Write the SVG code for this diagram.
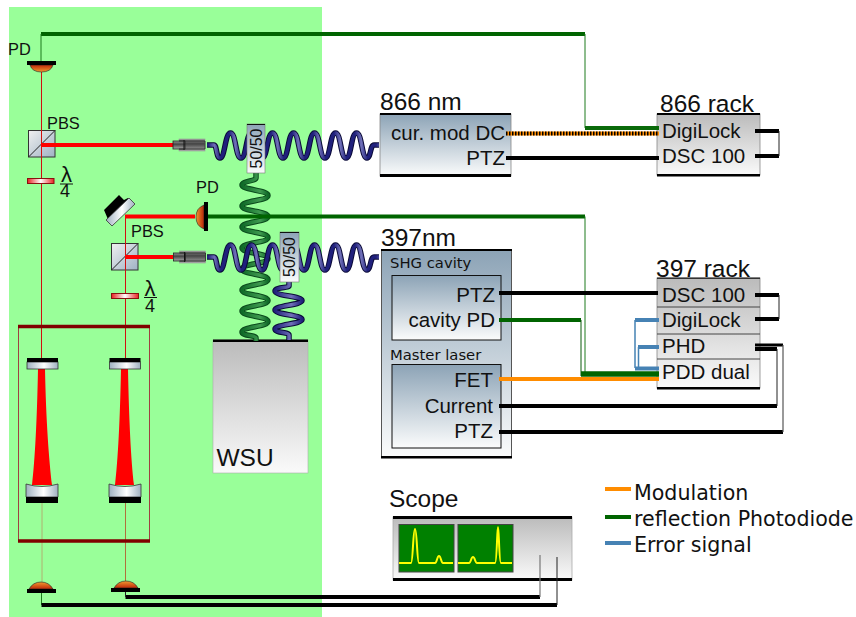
<svg xmlns="http://www.w3.org/2000/svg" width="856" height="617" viewBox="0 0 856 617">
<style>
text{font-family:"Liberation Sans",Arial,sans-serif;fill:#111}
.t18{font-size:20.500px}.t21{font-size:24.500px}.t16{font-size:16.400px}
.t15{font-family:"DejaVu Sans",sans-serif;font-size:14.800px}
.t20{font-family:"DejaVu Sans",sans-serif;font-size:20.600px}
.r{text-anchor:end}
.w{fill:none;stroke:#000;stroke-width:4}
.g{fill:none;stroke:#006400;stroke-width:4}
.o{fill:none;stroke:#ff8c00;stroke-width:4}
.b{fill:none;stroke:#4682b4;stroke-width:4}
.thin{fill:none;stroke:#222;stroke-width:1}
.beam{fill:none;stroke:#f00;stroke-width:4}
.ray{fill:none;stroke:#d01010;stroke-width:1}
.bar{fill:#000}
</style>
<defs>
<linearGradient id="panel" x1="0" y1="0" x2="0" y2="1"><stop offset="0" stop-color="#8ca3b6"/><stop offset="1" stop-color="#fbfcfc"/></linearGradient>
<linearGradient id="rack" x1="0" y1="0" x2="0" y2="1"><stop offset="0" stop-color="#bbbbbb"/><stop offset="1" stop-color="#fafafa"/></linearGradient>
<linearGradient id="cube" x1="0" y1="0" x2="1" y2="1"><stop offset="0" stop-color="#f0f0f0"/><stop offset="1" stop-color="#9fb2c4"/></linearGradient>
<linearGradient id="mir" x1="0" y1="0" x2="1" y2="0"><stop offset="0" stop-color="#9fb0c0"/><stop offset=".55" stop-color="#ffffff"/><stop offset="1" stop-color="#9fb0c0"/></linearGradient>
<linearGradient id="plate" x1="0" y1="0" x2="1" y2="0"><stop offset="0" stop-color="#e82020"/><stop offset=".5" stop-color="#ffffff"/><stop offset="1" stop-color="#e82020"/></linearGradient>
<linearGradient id="pdd" x1="0" y1="0" x2="0" y2="1"><stop offset="0" stop-color="#c02808"/><stop offset="1" stop-color="#f09a30"/></linearGradient>
<linearGradient id="pdu" x1="0" y1="0" x2="0" y2="1"><stop offset="0" stop-color="#f09a30"/><stop offset="1" stop-color="#c02808"/></linearGradient>
<linearGradient id="pds" x1="0" y1="0" x2="1" y2="0"><stop offset="0" stop-color="#f09a30"/><stop offset="1" stop-color="#b82408"/></linearGradient>
<linearGradient id="coll" x1="0" y1="0" x2="0" y2="1"><stop offset="0" stop-color="#999"/><stop offset=".4" stop-color="#444"/><stop offset="1" stop-color="#aaa"/></linearGradient>
<linearGradient id="blueH" gradientUnits="userSpaceOnUse" x1="229" y1="0" x2="250" y2="0" spreadMethod="repeat"><stop offset="0" stop-color="#20207c"/><stop offset=".3" stop-color="#7070b8"/><stop offset=".6" stop-color="#20207c"/><stop offset="1" stop-color="#20207c"/></linearGradient>
<linearGradient id="blueV" gradientUnits="userSpaceOnUse" x1="275" y1="0" x2="302" y2="0"><stop offset="0" stop-color="#20207c"/><stop offset=".6" stop-color="#7070b8"/><stop offset="1" stop-color="#20207c"/></linearGradient>
<linearGradient id="greenV" gradientUnits="userSpaceOnUse" x1="242" y1="0" x2="268" y2="0"><stop offset="0" stop-color="#0f6a28"/><stop offset=".7" stop-color="#3f9a50"/><stop offset="1" stop-color="#0f6a28"/></linearGradient>
<path id="coilH" d="M207 145H214C217 145 216 158 220 158c5 0 5-25 10.500-25s5 25 10.500 25s5-25 10.500-25s5 25 10.500 25s5-25 10.500-25s5 25 10.500 25s5-25 10.500-25s5 25 10.500 25s5-25 10.500-25s5 25 10.500 25s5-25 10.500-25s5 25 10.500 25s5-25 10.500-25s5 25 10.500 25C371 158 370 145 374 145H379"/>
<g id="collimator">
<rect x="179" y="139" width="26" height="12" fill="url(#coll)" stroke="#999" stroke-width=".6"/>
<rect x="173" y="141" width="12" height="8" fill="url(#coll)" stroke="#222" stroke-width=".8"/>
<path d="M184 140V150" stroke="#111" stroke-width="1"/>
<path d="M179 141H205V149H179" fill="none" stroke="#222" stroke-width=".8"/>
</g>
<g id="topmirror">
<rect x="0" y="4" width="31" height="7" fill="url(#mir)" stroke="#333" stroke-width=".8"/>
<rect x="0" y="0" width="31" height="4" class="bar"/>
</g>
<g id="endmirror">
<path d="M0 0Q16 5 32 0V13H0Z" fill="url(#mir)" stroke="#333" stroke-width=".8"/>
<rect x="0" y="13" width="32" height="6" class="bar"/>
</g>
</defs>

<rect id="table" x="9" y="7" width="313" height="610" fill="#99ff99"/>

<g id="pbs-1">
<rect x="28.500" y="130.500" width="26.500" height="26.500" fill="url(#cube)" stroke="#333"/>
<path d="M28.500 157L55 130.500" stroke="#222" stroke-width="1"/>
<text x="47" y="129" class="t16">PBS</text>
</g>
<g id="pbs-2">
<rect x="111.500" y="243.500" width="26.500" height="26.500" fill="url(#cube)" stroke="#333"/>
<path d="M111.500 270L138 243.500" stroke="#222" stroke-width="1"/>
<text x="131" y="237" class="t16">PBS</text>
</g>
<g id="wsu">
<rect x="213" y="340" width="95" height="133" fill="url(#rack)" stroke="#aaa" stroke-width=".6"/>
<rect x="213" y="339.500" width="95" height="2.500" class="bar"/>
<text x="216.500" y="466" font-size="24.500">WSU</text>
</g>
<g id="laser-866">
<rect x="380" y="114" width="131" height="62" fill="url(#panel)" stroke="#888" stroke-width=".8"/>
<rect x="380" y="113" width="131" height="2" class="bar"/>
<rect x="380" y="174" width="131" height="3" class="bar"/>
<text x="380" y="110" class="t21">866 nm</text>
<text x="505" y="140" class="t18 r">cur. mod DC</text>
<text x="505" y="165" class="t18 r">PTZ</text>
</g>
<g id="laser-397">
<rect x="381.500" y="249.500" width="130" height="208" fill="url(#panel)" stroke="#555" stroke-width="1"/>
<rect x="381" y="249" width="131" height="2" class="bar"/>
<rect x="381" y="456" width="131" height="2.500" class="bar"/>
<text x="381" y="246" class="t21">397nm</text>
<text x="390" y="268" class="t15">SHG cavity</text>
<rect x="392" y="275.500" width="109" height="64.500" fill="url(#panel)" stroke="#111" stroke-width="1"/>
<text x="495" y="302" class="t18 r">PTZ</text>
<text x="495" y="327" class="t18 r">cavity PD</text>
<text x="390" y="360" class="t15">Master laser</text>
<rect x="392" y="364.500" width="109" height="83.500" fill="url(#panel)" stroke="#111" stroke-width="1"/>
<text x="493" y="387" class="t18 r">FET</text>
<text x="493" y="413" class="t18 r">Current</text>
<text x="493" y="438" class="t18 r">PTZ</text>
</g>
<g id="rack-866">
<rect x="657" y="114" width="103" height="61" fill="url(#rack)" stroke="#888" stroke-width=".8"/>
<rect x="657" y="113" width="103" height="2" class="bar"/>
<rect x="657" y="174" width="103" height="2.500" class="bar"/>
<text x="660" y="112" class="t21">866 rack</text>
<text x="662" y="138" class="t18">DigiLock</text>
<text x="662" y="163" class="t18">DSC 100</text>
</g>
<g id="rack-397">
<rect x="657" y="278" width="103" height="110" fill="url(#rack)" stroke="#888" stroke-width=".8"/>
<rect x="657" y="277.500" width="103" height="1.500" fill="#333"/>
<path d="M657 307H760M657 334H760M657 359H760" stroke="#444" stroke-width="1"/>
<rect x="657" y="387" width="103" height="2.500" class="bar"/>
<text x="656" y="277" class="t21">397 rack</text>
<text x="662" y="302" class="t18">DSC 100</text>
<text x="662" y="327" class="t18">DigiLock</text>
<text x="662" y="353" class="t18">PHD</text>
<text x="662" y="379" class="t18">PDD dual</text>
</g>
<g id="scope">
<text x="389" y="507" font-size="24.500">Scope</text>
<rect x="393" y="517" width="179" height="63" fill="url(#rack)" stroke="#aaa" stroke-width=".8"/>
<rect x="393" y="516" width="179" height="3" class="bar"/>
<rect x="393" y="578" width="179" height="3" class="bar"/>
<rect x="399" y="524.500" width="55" height="47.500" fill="#008000" stroke="#444" stroke-width="1"/>
<rect x="458" y="524.500" width="55" height="47.500" fill="#008000" stroke="#444" stroke-width="1"/>
<path d="M399 563H411C413 563 413 529 415 529C417 529 417 563 419 563H435C437 563 437 556 439 556C441 556 441 563 443 563H453" fill="none" stroke="#ff0" stroke-width="2"/>
<path d="M458 563H469C471 563 471 557 473 557C475 557 475 563 477 563H495C497 563 497 527 498 527C499 527 499 563 501 563H512" fill="none" stroke="#ff0" stroke-width="2"/>
</g>

<g id="connectors">
<path class="g" d="M41 34H585"/>
<path d="M41 34V61" fill="none" stroke="#1d7a1d" stroke-width="1"/>
<path d="M585 34V128" fill="none" stroke="#1d7a1d" stroke-width="1"/>
<path d="M585 128H659" fill="none" stroke="#0a6a0a" stroke-width="4"/>
<path class="o" d="M506 133.500H659"/>
<path d="M506 133.500H659" fill="none" stroke="#000" stroke-width="4" stroke-dasharray="1.500 1.500"/>
<path class="w" d="M506 158H659"/>
<path class="w" d="M755 131H779M755 156H779"/>
<path class="thin" d="M779 131V156"/>

<path class="ray" d="M41.500 65V359"/>
<path class="ray" d="M125.500 216V359"/>
<path d="M42 503V582" fill="none" stroke="#b0b070" stroke-width="1"/>
<path d="M125.500 503V581" fill="none" stroke="#b0703c" stroke-width="1"/>
<path class="beam" d="M41 145H173"/>
<path class="beam" d="M125 216.500H195"/>
<path class="beam" d="M125 257H173"/>
<path d="M38 369H45C46 420 49 460 52 485H32C35 460 37 420 38 369Z" fill="#f00"/>
<path d="M121 369H128C129 420 131 460 134 485H115C118 460 120 420 121 369Z" fill="#f00"/>

<path fill="none" stroke="#0a4a1c" stroke-width="5.500" d="M256 173V178C256 181 242 181 242 185c0 5 26 5 26 10.500s-26 5-26 10.500s26 5 26 10.500s-26 5-26 10.500s26 5 26 10.500s-26 5-26 10.500s26 5 26 10.500s-26 5-26 10.500s26 5 26 10.500s-26 5-26 10.500s26 5 26 10.500s-26 5-26 10.500s26 5 26 10.500s-26 5-26 10.500C242 336 256 335 256 338V341"/>
<path fill="none" stroke="url(#greenV)" stroke-width="3.500" d="M256 173V178C256 181 242 181 242 185c0 5 26 5 26 10.500s-26 5-26 10.500s26 5 26 10.500s-26 5-26 10.500s26 5 26 10.500s-26 5-26 10.500s26 5 26 10.500s-26 5-26 10.500s26 5 26 10.500s-26 5-26 10.500s26 5 26 10.500s-26 5-26 10.500s26 5 26 10.500s-26 5-26 10.500C242 336 256 335 256 338V341"/>
<path fill="none" stroke="#0a0a38" stroke-width="5.500" d="M289 281V286C289 288 275 287 275 291c0 5 27 5 27 9.500s-27 5-27 9.500s27 5 27 9.500s-27 5-27 9.500C275 333 289 332 289 335V340"/>
<path fill="none" stroke="url(#blueV)" stroke-width="3.500" d="M289 281V286C289 288 275 287 275 291c0 5 27 5 27 9.500s-27 5-27 9.500s27 5 27 9.500s-27 5-27 9.500C275 333 289 332 289 335V340"/>

<use href="#coilH" fill="none" stroke="#0a0a38" stroke-width="5.500"/>
<use href="#coilH" fill="none" stroke="url(#blueH)" stroke-width="3.500"/>
<use href="#coilH" y="112" fill="none" stroke="#0a0a38" stroke-width="5.500"/>
<use href="#coilH" y="112" fill="none" stroke="url(#blueH)" stroke-width="3.500"/>

<path class="g" d="M208 216.500H585"/>
<path d="M585 216.500V373" fill="none" stroke="#1d7a1d" stroke-width="1"/>
<path class="w" d="M499 293H658"/>
<path class="g" d="M499 320H581"/>
<path d="M581 320V376" fill="none" stroke="#0a5a0a" stroke-width="1"/>
<path class="o" d="M499 379H659"/>
<path d="M581 374H659" fill="none" stroke="#006400" stroke-width="5.500"/>
<path class="b" d="M659 320H635"/>
<path d="M635 320V368M638.500 347V367" fill="none" stroke="#4682b4" stroke-width="1.500"/>
<path class="b" d="M659 347H638"/>
<path class="b" d="M635 368.500H659"/>
<path class="w" d="M499 406H777"/>
<path class="w" d="M499 432H783"/>
<path class="w" d="M755 295H779M755 319H779"/>
<path class="thin" d="M779 295V319"/>
<path d="M755 345H783" fill="none" stroke="#000" stroke-width="3"/>
<path d="M755 349H777" fill="none" stroke="#000" stroke-width="4"/>
<path d="M777 349V406" fill="none" stroke="#222" stroke-width="1"/>
<path d="M783 345V432" fill="none" stroke="#555" stroke-width="1.200"/>

<path d="M41.500 593V605" fill="none" stroke="#1d7a1d" stroke-width="1"/>
<path class="w" d="M41.500 605H557"/>
<path class="thin" d="M557 605V557"/>
<path class="w" d="M125.500 597H540"/>
<path d="M125.500 592V597" class="thin"/>
<path d="M540 597V555" fill="none" stroke="#777" stroke-width="1.200"/>
</g>

<g id="pd-top">
<path d="M30 65H53Q51 72 41.500 72Q32 72 30 65Z" fill="url(#pdd)" stroke="#222" stroke-width=".6"/>
<rect x="27" y="61" width="29" height="4" class="bar"/>
<text x="8" y="55" class="t16">PD</text>
</g>
<g id="waveplate-1">
<rect x="27.500" y="178.500" width="26.500" height="5" fill="url(#plate)" stroke="#8a1010" stroke-width="1"/>
<text x="66.500" y="182" font-size="22" text-anchor="middle" font-family="Liberation Serif">λ</text>
<path d="M60 184H73" stroke="#111" stroke-width="1"/>
<text x="65" y="197" font-size="18" text-anchor="middle">4</text>
</g>
<use id="collimator-1" href="#collimator"/>
<use id="collimator-2" href="#collimator" x="0.500" y="112"/>
<g id="mirror">
<polygon points="104,210 119,195 124,200 128,198 132,202 110,224" class="bar"/>
<polygon points="106,220 112,226 135,204 129,198" fill="url(#mir)" stroke="#333" stroke-width=".8"/>
</g>
<g id="pd-side">
<path d="M204 205V229Q196 226 196 217Q196 208 204 205Z" fill="url(#pds)" stroke="#222" stroke-width=".6"/>
<rect x="204" y="202" width="4" height="29" class="bar"/>
<text x="196" y="193" class="t16">PD</text>
</g>
<g id="waveplate-2">
<rect x="111.500" y="293.500" width="27" height="5" fill="url(#plate)" stroke="#8a1010" stroke-width="1"/>
<text x="150" y="296" font-size="22" text-anchor="middle" font-family="Liberation Serif">λ</text>
<path d="M144 297.500H157" stroke="#111" stroke-width="1"/>
<text x="150" y="312" font-size="18" text-anchor="middle">4</text>
</g>
<g id="splitter-1">
<rect x="247" y="124" width="18" height="49" fill="url(#panel)" stroke="#777" stroke-width=".6"/>
<path d="M247 124.500H265" stroke="#111" stroke-width="1"/>
<text transform="translate(261.500 148.500) rotate(-90)" font-size="16" text-anchor="middle">50/50</text>
</g>
<g id="splitter-2">
<rect x="280" y="232" width="19" height="50" fill="url(#panel)" stroke="#777" stroke-width=".6"/>
<path d="M280 232.500H299" stroke="#111" stroke-width="1"/>
<text transform="translate(295 257) rotate(-90)" font-size="16" text-anchor="middle">50/50</text>
</g>
<g id="cavity-frame">
<rect x="18.500" y="326.500" width="131" height="214.500" fill="none" stroke="#a04040" stroke-width="1"/>
<path d="M18 326.500H150M18 541H150" stroke="#800000" stroke-width="3.500"/>
</g>
<use id="mirror-top-1" href="#topmirror" x="27" y="358"/>
<use id="mirror-top-2" href="#topmirror" x="109.500" y="358"/>
<use id="mirror-end-1" href="#endmirror" x="26" y="484"/>
<use id="mirror-end-2" href="#endmirror" x="109" y="484"/>
<g id="pd-bottom-1">
<path d="M29 589Q33 582 41 582Q49 582 53 589Z" fill="url(#pdu)" stroke="#222" stroke-width=".6"/>
<rect x="27" y="589" width="29" height="4" class="bar"/>
</g>
<g id="pd-bottom-2">
<path d="M114 588Q118 581 126 581Q134 581 138 588Z" fill="url(#pdu)" stroke="#222" stroke-width=".6"/>
<rect x="111" y="588" width="29" height="4" class="bar"/>
</g>
<g id="legend">
<path class="o" d="M605 489H631"/>
<text x="634" y="500" class="t20">Modulation</text>
<path class="g" d="M605 517H631"/>
<text x="634" y="526" class="t20">reflection Photodiode</text>
<path class="b" d="M605 543H631"/>
<text x="634" y="552" class="t20">Error signal</text>
</g>
</svg>
